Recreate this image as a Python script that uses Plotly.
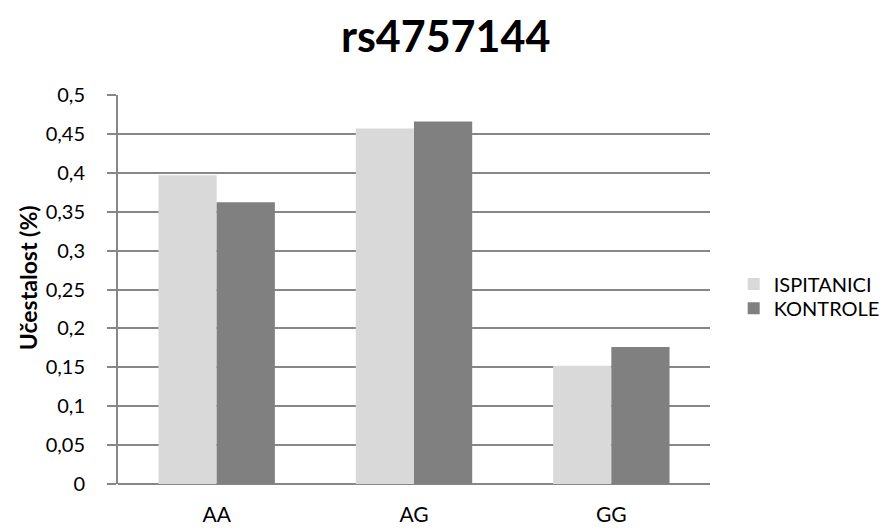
import plotly.graph_objects as go

categories = ["AA", "AG", "GG"]
ispitanici = [0.397, 0.457, 0.152]
kontrole = [0.362, 0.466, 0.176]
tick_vals = [0, 0.05, 0.1, 0.15, 0.2, 0.25, 0.3, 0.35, 0.4, 0.45, 0.5]
tick_text = ["0", "0,05", "0,1", "0,15", "0,2", "0,25", "0,3", "0,35", "0,4", "0,45", "0,5"]

FONT = "Lato"

fig = go.Figure()
fig.add_trace(go.Bar(name="ISPITANICI", x=categories, y=ispitanici, legend="legend",
                     showlegend=True, marker=dict(color="#d9d9d9", line=dict(width=0))))
fig.add_trace(go.Bar(name="KONTROLE", x=categories, y=kontrole, legend="legend2",
                     showlegend=True, marker=dict(color="#808080", line=dict(width=0))))

leg_common = dict(x=1.04, xanchor="left", yanchor="middle",
                  font=dict(family=FONT, size=20, color="#000000"),
                  itemwidth=30, bgcolor="rgba(0,0,0,0)", borderwidth=0)

fig.update_layout(
    width=895, height=531,
    margin=dict(l=110, r=193, t=87, b=55, pad=0),
    showlegend=True,
    paper_bgcolor="white", plot_bgcolor="white",
    barmode="group", bargap=0.41, bargroupgap=0,
    font=dict(family=FONT, size=20, color="#000000"),
    title=dict(text="<b>rs4757144</b>", x=0.489, xanchor="center", y=0.945, yanchor="middle",
               font=dict(family=FONT, size=43, color="#000000")),
    legend=dict(y=0.514, **leg_common),
    legend2=dict(y=0.452, **leg_common),
    xaxis=dict(showline=False, showgrid=False, ticks="", tickfont=dict(size=21),
               ticklabelstandoff=16),
    yaxis=dict(range=[0, 0.5], tickvals=tick_vals, ticktext=tick_text,
               showgrid=True, gridcolor="#878787", gridwidth=2,
               showline=True, linecolor="#878787", linewidth=2,
               ticks="outside", ticklen=9, tickcolor="#878787", tickwidth=2,
               zeroline=True, zerolinecolor="#878787", zerolinewidth=2,
               tickfont=dict(size=20), ticklabelstandoff=18),
    annotations=[dict(text="<b>Učestalost (%)</b>", xref="paper", yref="paper",
                      x=-0.153, y=0.53, xanchor="center", yanchor="middle",
                      textangle=-90, showarrow=False,
                      font=dict(family=FONT, size=23, color="#000000"))],
)

fig.write_html("out.html")
